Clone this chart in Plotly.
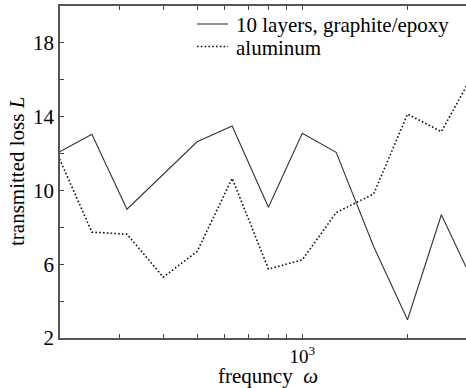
import plotly.graph_objects as go

# One-third-octave band centre frequencies
freq = [200, 250, 315, 400, 500, 630, 800, 1000, 1250, 1600, 2000, 2500, 3150]

# Transmission loss for each panel
loss_composite = [12.05, 13.04, 8.98, 10.87, 12.64, 13.49, 9.09, 13.1, 12.07, 6.96, 2.99, 8.68, 4.65]
loss_aluminum = [11.9, 7.74, 7.63, 5.30, 6.69, 10.66, 5.74, 6.24, 8.80, 9.81, 14.14, 13.19, 16.64]

series_names = ["10 layers, graphite/epoxy", "aluminum"]

x_tick_vals = [300, 400, 500, 600, 700, 800, 900, 1000, 2000, 3000]
x_tick_text = ["", "", "", "", "", "", "", "10<sup>3</sup>", "", ""]
y_tick_vals = [2, 4, 6, 8, 10, 12, 14, 16, 18]
y_tick_text = ["2", "", "6", "", "10", "", "14", "", "18"]

FONT = "Liberation Serif, Times New Roman, serif"
W, H = 466, 388
ML, MT, MB = 60, 6, 50
plot_w = W - ML
plot_h = H - MT - MB

DOTS = "1.6px,2.2px"


def px_x(p):
    return (p - ML) / plot_w


def px_y(p):
    return (H - MB - p) / plot_h


fig = go.Figure()
fig.add_trace(go.Scatter(
    x=freq, y=loss_composite, mode="lines", name=series_names[0],
    line=dict(color="#333333", width=1.1),
))
fig.add_trace(go.Scatter(
    x=freq, y=loss_aluminum, mode="lines", name=series_names[1],
    line=dict(color="#111111", width=1.6, dash=DOTS),
))

# Legend drawn by hand so the rows sit close together
legend_rows = [(24, "solid", "#333333", 1.1), (46.5, DOTS, "#111111", 1.6)]
for (ypx, dash, col, lw), label in zip(legend_rows, series_names):
    fig.add_shape(type="line", xref="paper", yref="paper",
                  x0=px_x(197), x1=px_x(228), y0=px_y(ypx), y1=px_y(ypx),
                  line=dict(color=col, width=lw, dash=dash))
    fig.add_annotation(xref="paper", yref="paper", x=px_x(234), y=px_y(ypx + 1),
                       xanchor="left", yanchor="middle", text=label,
                       showarrow=False, font=dict(family=FONT, size=21, color="black"))

fig.add_annotation(xref="paper", yref="paper", x=px_x(268), y=px_y(375.5),
                   xanchor="center", yanchor="middle", text="frequncy  <i>ω</i>",
                   showarrow=False, font=dict(family=FONT, size=21, color="black"))
fig.add_annotation(xref="paper", yref="paper", x=px_x(17), y=0.5,
                   xanchor="center", yanchor="middle", textangle=-90,
                   text="transmitted loss <i>L</i>",
                   showarrow=False, font=dict(family=FONT, size=21, color="black"))

x_right = 3 + (466 - 302.3) / 349.5
x_left = 3 - (302.3 - 60) / 349.5

fig.update_layout(
    width=W, height=H,
    margin=dict(l=ML, r=0, t=MT, b=MB),
    paper_bgcolor="white", plot_bgcolor="white",
    showlegend=False,
    font=dict(family=FONT, size=21, color="black"),
)
fig.update_xaxes(
    type="log", range=[x_left, x_right],
    tickvals=x_tick_vals, ticktext=x_tick_text,
    ticks="inside", ticklen=4, tickcolor="#444444", tickwidth=1,
    showline=True, linecolor="#555555", linewidth=1.5, mirror="ticks",
    showgrid=False, zeroline=False,
    tickfont=dict(family=FONT, size=19, color="black"),
)
fig.update_yaxes(
    range=[2, 20],
    tickvals=y_tick_vals, ticktext=y_tick_text,
    ticks="inside", ticklen=4, tickcolor="#444444", tickwidth=1,
    showline=True, linecolor="#555555", linewidth=1.5,
    showgrid=False, zeroline=False,
    tickfont=dict(family=FONT, size=21, color="black"),
)

fig.write_html("out.html")
